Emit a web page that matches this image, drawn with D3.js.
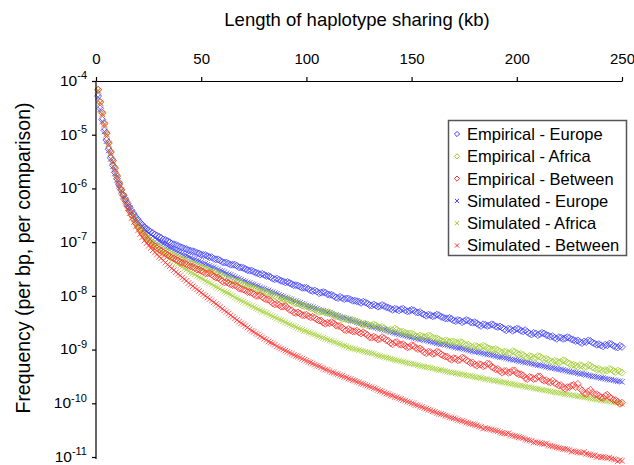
<!DOCTYPE html>
<html>
<head>
<meta charset="utf-8">
<script src="https://d3js.org/d3.v7.min.js"></script>
<style>
  body { margin: 0; background: #fff; }
  svg { font-family: "Liberation Sans", Arial, sans-serif; }
</style>
</head>
<body>
<div id="chart"></div>
<script>
// chart size
const width = 634;
const height = 465;

// x positions (kb) at which the frequencies were read, every 1 kb
const kb = d3.range(1, 251);

// log10 of frequency per bp per comparison (10 values per row)
const empEurope = [
  -4.28,-4.51,-4.72,-4.92,-5.10,-5.27,-5.43,-5.57,-5.70,-5.82,
  -5.93,-6.03,-6.12,-6.20,-6.28,-6.35,-6.42,-6.48,-6.54,-6.59,
  -6.64,-6.68,-6.72,-6.75,-6.78,-6.81,-6.83,-6.86,-6.88,-6.90,
  -6.92,-6.95,-6.96,-6.98,-7.00,-7.03,-7.04,-7.05,-7.07,-7.09,
  -7.10,-7.12,-7.13,-7.15,-7.16,-7.17,-7.18,-7.20,-7.21,-7.23,
  -7.24,-7.24,-7.26,-7.28,-7.28,-7.31,-7.32,-7.32,-7.34,-7.37,
  -7.38,-7.38,-7.40,-7.42,-7.42,-7.42,-7.44,-7.47,-7.47,-7.48,
  -7.50,-7.52,-7.53,-7.53,-7.55,-7.57,-7.58,-7.60,-7.59,-7.61,
  -7.63,-7.63,-7.65,-7.68,-7.69,-7.68,-7.70,-7.72,-7.73,-7.75,
  -7.74,-7.76,-7.78,-7.80,-7.80,-7.81,-7.83,-7.85,-7.85,-7.85,
  -7.87,-7.90,-7.91,-7.90,-7.92,-7.95,-7.94,-7.93,-7.94,-7.97,
  -7.98,-7.98,-8.00,-8.03,-8.04,-8.02,-8.04,-8.06,-8.05,-8.05,
  -8.07,-8.09,-8.09,-8.10,-8.11,-8.13,-8.11,-8.12,-8.14,-8.17,
  -8.18,-8.16,-8.18,-8.20,-8.19,-8.17,-8.19,-8.21,-8.22,-8.24,
  -8.26,-8.24,-8.25,-8.27,-8.25,-8.24,-8.27,-8.29,-8.28,-8.26,
  -8.27,-8.30,-8.31,-8.30,-8.33,-8.35,-8.37,-8.35,-8.36,-8.38,
  -8.37,-8.35,-8.36,-8.39,-8.40,-8.42,-8.42,-8.41,-8.43,-8.46,
  -8.47,-8.45,-8.46,-8.49,-8.47,-8.45,-8.46,-8.49,-8.50,-8.49,
  -8.51,-8.54,-8.56,-8.53,-8.54,-8.56,-8.55,-8.53,-8.54,-8.57,
  -8.58,-8.57,-8.59,-8.62,-8.64,-8.61,-8.62,-8.65,-8.63,-8.61,
  -8.62,-8.65,-8.66,-8.64,-8.67,-8.70,-8.72,-8.69,-8.70,-8.73,
  -8.71,-8.69,-8.70,-8.73,-8.74,-8.76,-8.75,-8.78,-8.80,-8.77,
  -8.78,-8.80,-8.79,-8.77,-8.78,-8.81,-8.82,-8.84,-8.83,-8.86,
  -8.88,-8.85,-8.86,-8.83,-8.84,-8.87,-8.89,-8.91,-8.90,-8.92,
  -8.94,-8.91,-8.92,-8.89,-8.90,-8.93,-8.95,-8.96,-8.93,-8.95
];
const empAfrica = [
  -4.17,-4.40,-4.60,-4.80,-4.98,-5.16,-5.33,-5.49,-5.63,-5.77,
  -5.90,-6.02,-6.13,-6.23,-6.33,-6.42,-6.50,-6.57,-6.64,-6.71,
  -6.77,-6.82,-6.87,-6.91,-6.95,-6.98,-7.01,-7.04,-7.06,-7.09,
  -7.11,-7.14,-7.16,-7.18,-7.20,-7.23,-7.24,-7.26,-7.28,-7.31,
  -7.32,-7.33,-7.35,-7.38,-7.39,-7.40,-7.42,-7.44,-7.45,-7.47,
  -7.48,-7.50,-7.51,-7.54,-7.55,-7.55,-7.57,-7.60,-7.61,-7.62,
  -7.64,-7.67,-7.69,-7.69,-7.71,-7.73,-7.74,-7.74,-7.76,-7.79,
  -7.80,-7.82,-7.83,-7.84,-7.86,-7.88,-7.89,-7.91,-7.92,-7.92,
  -7.94,-7.96,-7.97,-7.98,-8.00,-8.03,-8.05,-8.04,-8.06,-8.08,
  -8.08,-8.08,-8.10,-8.13,-8.14,-8.14,-8.16,-8.18,-8.19,-8.19,
  -8.21,-8.23,-8.24,-8.25,-8.28,-8.30,-8.29,-8.29,-8.31,-8.32,
  -8.31,-8.33,-8.36,-8.38,-8.38,-8.40,-8.43,-8.42,-8.43,-8.45,
  -8.45,-8.45,-8.47,-8.49,-8.49,-8.52,-8.54,-8.52,-8.53,-8.56,
  -8.55,-8.53,-8.55,-8.58,-8.59,-8.58,-8.60,-8.63,-8.65,-8.63,
  -8.64,-8.61,-8.63,-8.66,-8.67,-8.67,-8.69,-8.71,-8.70,-8.70,
  -8.72,-8.75,-8.76,-8.74,-8.75,-8.77,-8.76,-8.74,-8.75,-8.78,
  -8.79,-8.79,-8.81,-8.84,-8.85,-8.83,-8.84,-8.86,-8.85,-8.85,
  -8.87,-8.88,-8.86,-8.87,-8.90,-8.92,-8.91,-8.94,-8.96,-8.93,
  -8.94,-8.96,-8.95,-8.93,-8.94,-8.97,-8.98,-9.00,-9.00,-8.99,
  -9.01,-9.04,-9.06,-9.04,-9.04,-9.07,-9.06,-9.03,-9.04,-9.07,
  -9.09,-9.08,-9.10,-9.13,-9.15,-9.12,-9.13,-9.16,-9.15,-9.12,
  -9.13,-9.16,-9.18,-9.17,-9.19,-9.22,-9.23,-9.21,-9.22,-9.24,
  -9.23,-9.20,-9.21,-9.24,-9.26,-9.29,-9.28,-9.30,-9.32,-9.29,
  -9.30,-9.33,-9.32,-9.29,-9.30,-9.33,-9.35,-9.37,-9.36,-9.38,
  -9.40,-9.38,-9.39,-9.36,-9.37,-9.40,-9.42,-9.39,-9.41,-9.43
];
const empBetween = [
  -4.16,-4.39,-4.59,-4.79,-4.97,-5.15,-5.32,-5.48,-5.62,-5.77,
  -5.90,-6.02,-6.13,-6.23,-6.33,-6.42,-6.50,-6.58,-6.65,-6.72,
  -6.78,-6.84,-6.89,-6.94,-6.98,-7.02,-7.05,-7.08,-7.11,-7.14,
  -7.16,-7.19,-7.21,-7.24,-7.26,-7.29,-7.30,-7.32,-7.34,-7.37,
  -7.38,-7.39,-7.41,-7.44,-7.45,-7.46,-7.48,-7.51,-7.51,-7.53,
  -7.55,-7.58,-7.58,-7.58,-7.60,-7.64,-7.66,-7.66,-7.69,-7.73,
  -7.75,-7.74,-7.76,-7.79,-7.80,-7.80,-7.82,-7.86,-7.87,-7.88,
  -7.90,-7.93,-7.93,-7.94,-7.97,-8.00,-8.00,-7.99,-8.02,-8.05,
  -8.07,-8.07,-8.10,-8.14,-8.16,-8.15,-8.17,-8.20,-8.20,-8.19,
  -8.22,-8.26,-8.27,-8.31,-8.32,-8.31,-8.33,-8.36,-8.36,-8.35,
  -8.38,-8.40,-8.39,-8.41,-8.44,-8.46,-8.46,-8.50,-8.52,-8.50,
  -8.51,-8.49,-8.51,-8.55,-8.56,-8.56,-8.59,-8.63,-8.64,-8.62,
  -8.64,-8.66,-8.66,-8.65,-8.68,-8.70,-8.68,-8.70,-8.73,-8.77,
  -8.78,-8.76,-8.78,-8.81,-8.80,-8.77,-8.79,-8.83,-8.84,-8.88,
  -8.90,-8.87,-8.86,-8.90,-8.91,-8.90,-8.93,-8.96,-8.95,-8.92,
  -8.93,-8.97,-8.99,-8.98,-9.01,-9.05,-9.07,-9.04,-9.05,-9.08,
  -9.07,-9.04,-9.05,-9.09,-9.11,-9.13,-9.13,-9.17,-9.19,-9.16,
  -9.17,-9.20,-9.19,-9.15,-9.16,-9.20,-9.22,-9.25,-9.24,-9.28,
  -9.30,-9.27,-9.28,-9.31,-9.30,-9.26,-9.27,-9.32,-9.34,-9.37,
  -9.36,-9.40,-9.43,-9.40,-9.40,-9.43,-9.42,-9.39,-9.39,-9.44,
  -9.46,-9.46,-9.48,-9.53,-9.55,-9.51,-9.52,-9.55,-9.54,-9.50,
  -9.50,-9.56,-9.58,-9.57,-9.60,-9.61,-9.58,-9.62,-9.64,-9.67,
  -9.66,-9.70,-9.73,-9.70,-9.70,-9.67,-9.66,-9.70,-9.64,-9.72,
  -9.76,-9.81,-9.83,-9.78,-9.75,-9.80,-9.84,-9.83,-9.86,-9.89,
  -9.90,-9.86,-9.84,-9.88,-9.91,-9.94,-9.94,-9.97,-10.01,-9.99
];
const simEurope = [
  -4.30,-4.53,-4.75,-4.94,-5.12,-5.29,-5.45,-5.59,-5.72,-5.84,
  -5.95,-6.05,-6.14,-6.22,-6.30,-6.37,-6.44,-6.50,-6.56,-6.61,
  -6.66,-6.71,-6.75,-6.79,-6.83,-6.86,-6.89,-6.92,-6.95,-6.98,
  -7.00,-7.03,-7.05,-7.08,-7.10,-7.12,-7.14,-7.16,-7.18,-7.20,
  -7.22,-7.24,-7.25,-7.27,-7.29,-7.31,-7.32,-7.34,-7.35,-7.37,
  -7.39,-7.40,-7.42,-7.44,-7.46,-7.47,-7.49,-7.51,-7.53,-7.54,
  -7.56,-7.58,-7.60,-7.61,-7.63,-7.65,-7.67,-7.68,-7.70,-7.72,
  -7.73,-7.75,-7.76,-7.78,-7.79,-7.81,-7.82,-7.84,-7.86,-7.87,
  -7.89,-7.90,-7.92,-7.93,-7.95,-7.96,-7.98,-8.00,-8.01,-8.03,
  -8.04,-8.06,-8.07,-8.09,-8.10,-8.12,-8.13,-8.15,-8.16,-8.18,
  -8.19,-8.20,-8.21,-8.23,-8.24,-8.26,-8.27,-8.28,-8.29,-8.31,
  -8.32,-8.34,-8.35,-8.36,-8.37,-8.39,-8.40,-8.41,-8.42,-8.44,
  -8.45,-8.46,-8.47,-8.49,-8.50,-8.51,-8.52,-8.53,-8.54,-8.56,
  -8.57,-8.58,-8.59,-8.60,-8.61,-8.62,-8.63,-8.64,-8.65,-8.67,
  -8.68,-8.69,-8.70,-8.71,-8.72,-8.73,-8.74,-8.75,-8.76,-8.77,
  -8.78,-8.79,-8.80,-8.81,-8.81,-8.82,-8.83,-8.84,-8.85,-8.86,
  -8.87,-8.88,-8.89,-8.90,-8.90,-8.91,-8.92,-8.93,-8.94,-8.95,
  -8.96,-8.97,-8.97,-8.98,-8.99,-9.00,-9.01,-9.02,-9.03,-9.04,
  -9.04,-9.05,-9.06,-9.07,-9.08,-9.09,-9.09,-9.10,-9.11,-9.12,
  -9.13,-9.14,-9.14,-9.15,-9.16,-9.17,-9.18,-9.19,-9.19,-9.20,
  -9.21,-9.22,-9.23,-9.24,-9.24,-9.25,-9.26,-9.27,-9.28,-9.29,
  -9.29,-9.30,-9.31,-9.32,-9.33,-9.34,-9.34,-9.35,-9.36,-9.37,
  -9.37,-9.38,-9.39,-9.40,-9.41,-9.42,-9.42,-9.43,-9.44,-9.45,
  -9.45,-9.46,-9.47,-9.48,-9.49,-9.50,-9.50,-9.51,-9.52,-9.53,
  -9.53,-9.54,-9.55,-9.56,-9.56,-9.57,-9.58,-9.59,-9.59,-9.60
];
const simAfrica = [
  -4.18,-4.40,-4.60,-4.80,-4.98,-5.16,-5.33,-5.49,-5.63,-5.77,
  -5.90,-6.02,-6.13,-6.23,-6.33,-6.42,-6.50,-6.57,-6.64,-6.70,
  -6.76,-6.82,-6.87,-6.92,-6.96,-7.00,-7.04,-7.08,-7.11,-7.15,
  -7.18,-7.21,-7.24,-7.27,-7.30,-7.33,-7.36,-7.39,-7.41,-7.44,
  -7.46,-7.49,-7.51,-7.54,-7.56,-7.58,-7.60,-7.63,-7.65,-7.67,
  -7.69,-7.72,-7.74,-7.76,-7.78,-7.81,-7.83,-7.85,-7.87,-7.90,
  -7.92,-7.94,-7.96,-7.98,-8.00,-8.03,-8.05,-8.07,-8.09,-8.11,
  -8.13,-8.15,-8.17,-8.19,-8.21,-8.23,-8.25,-8.27,-8.29,-8.30,
  -8.32,-8.34,-8.36,-8.38,-8.40,-8.42,-8.44,-8.45,-8.47,-8.49,
  -8.51,-8.53,-8.55,-8.56,-8.58,-8.60,-8.62,-8.63,-8.65,-8.66,
  -8.68,-8.69,-8.71,-8.72,-8.74,-8.75,-8.77,-8.78,-8.80,-8.81,
  -8.83,-8.84,-8.86,-8.87,-8.89,-8.90,-8.92,-8.93,-8.94,-8.96,
  -8.97,-8.98,-8.99,-9.00,-9.01,-9.02,-9.03,-9.04,-9.05,-9.06,
  -9.07,-9.08,-9.10,-9.11,-9.12,-9.13,-9.14,-9.15,-9.16,-9.17,
  -9.18,-9.19,-9.20,-9.21,-9.22,-9.23,-9.24,-9.25,-9.26,-9.26,
  -9.27,-9.28,-9.29,-9.30,-9.31,-9.32,-9.33,-9.33,-9.34,-9.35,
  -9.36,-9.37,-9.38,-9.38,-9.39,-9.40,-9.41,-9.42,-9.43,-9.43,
  -9.44,-9.45,-9.46,-9.46,-9.47,-9.48,-9.49,-9.49,-9.50,-9.51,
  -9.52,-9.52,-9.53,-9.54,-9.55,-9.55,-9.56,-9.57,-9.58,-9.58,
  -9.59,-9.60,-9.61,-9.61,-9.62,-9.63,-9.64,-9.64,-9.65,-9.66,
  -9.67,-9.67,-9.68,-9.69,-9.70,-9.70,-9.71,-9.72,-9.73,-9.73,
  -9.74,-9.75,-9.76,-9.76,-9.77,-9.78,-9.79,-9.79,-9.80,-9.80,
  -9.81,-9.82,-9.83,-9.83,-9.84,-9.85,-9.85,-9.86,-9.87,-9.87,
  -9.88,-9.89,-9.89,-9.90,-9.91,-9.91,-9.92,-9.93,-9.93,-9.94,
  -9.95,-9.95,-9.96,-9.96,-9.97,-9.98,-9.99,-9.99,-10.00,-10.01
];
const simBetween = [
  -4.18,-4.41,-4.62,-4.82,-5.00,-5.18,-5.35,-5.51,-5.65,-5.79,
  -5.92,-6.04,-6.16,-6.27,-6.37,-6.46,-6.55,-6.63,-6.71,-6.78,
  -6.85,-6.91,-6.97,-7.02,-7.07,-7.11,-7.15,-7.19,-7.23,-7.27,
  -7.30,-7.34,-7.38,-7.42,-7.45,-7.49,-7.52,-7.56,-7.59,-7.62,
  -7.66,-7.69,-7.72,-7.76,-7.79,-7.82,-7.85,-7.88,-7.91,-7.94,
  -7.97,-8.00,-8.03,-8.06,-8.09,-8.12,-8.15,-8.18,-8.21,-8.24,
  -8.27,-8.30,-8.33,-8.36,-8.39,-8.42,-8.45,-8.48,-8.51,-8.53,
  -8.56,-8.59,-8.62,-8.65,-8.67,-8.70,-8.72,-8.75,-8.77,-8.80,
  -8.82,-8.85,-8.87,-8.89,-8.91,-8.94,-8.96,-8.98,-9.00,-9.02,
  -9.04,-9.06,-9.08,-9.10,-9.12,-9.13,-9.15,-9.17,-9.19,-9.21,
  -9.23,-9.24,-9.26,-9.28,-9.30,-9.31,-9.33,-9.35,-9.37,-9.38,
  -9.40,-9.42,-9.43,-9.45,-9.46,-9.48,-9.49,-9.51,-9.52,-9.54,
  -9.55,-9.57,-9.58,-9.60,-9.61,-9.63,-9.64,-9.66,-9.67,-9.69,
  -9.70,-9.72,-9.73,-9.75,-9.77,-9.78,-9.80,-9.82,-9.83,-9.85,
  -9.86,-9.88,-9.89,-9.91,-9.92,-9.94,-9.95,-9.97,-9.98,-10.00,
  -10.01,-10.03,-10.04,-10.06,-10.07,-10.09,-10.10,-10.12,-10.13,-10.15,
  -10.16,-10.18,-10.19,-10.20,-10.21,-10.23,-10.24,-10.26,-10.27,-10.28,
  -10.29,-10.31,-10.32,-10.33,-10.34,-10.36,-10.37,-10.38,-10.39,-10.40,
  -10.41,-10.43,-10.44,-10.47,-10.46,-10.47,-10.48,-10.49,-10.50,-10.51,
  -10.52,-10.54,-10.55,-10.56,-10.57,-10.56,-10.59,-10.60,-10.61,-10.62,
  -10.63,-10.64,-10.65,-10.67,-10.68,-10.69,-10.70,-10.73,-10.72,-10.73,
  -10.74,-10.75,-10.76,-10.75,-10.78,-10.79,-10.80,-10.81,-10.82,-10.83,
  -10.84,-10.85,-10.85,-10.86,-10.87,-10.90,-10.89,-10.90,-10.91,-10.92,
  -10.92,-10.91,-10.94,-10.95,-10.96,-10.97,-10.97,-11.00,-10.99,-11.00,
  -11.00,-11.01,-11.02,-11.01,-11.03,-11.04,-11.05,-11.08,-11.06,-11.07
];

// tick labels
const xTicks = [0, 50, 100, 150, 200, 250];
const yExponents = [-4, -5, -6, -7, -8, -9, -10, -11];

// series in legend order
const series = [
  { name: 'Empirical - Europe', values: empEurope, shape: 'diamond', color: '#3b3bff' },
  { name: 'Empirical - Africa', values: empAfrica, shape: 'diamond', color: '#9ccc2a' },
  { name: 'Empirical - Between', values: empBetween, shape: 'diamond', color: '#ff2e2e' },
  { name: 'Simulated - Europe', values: simEurope, shape: 'cross', color: '#3b3bff' },
  { name: 'Simulated - Africa', values: simAfrica, shape: 'cross', color: '#9ccc2a' },
  { name: 'Simulated - Between', values: simBetween, shape: 'cross', color: '#ff2e2e' }
];

const svg = d3.select('#chart')
  .append('svg')
  .attr('width', width)
  .attr('height', height);

// scales
const x = d3.scaleLinear().domain([0, 250]).range([96, 622]);
const y = d3.scaleLog().domain([1e-11, 1e-4]).range([457, 81]);

// marker shapes
function markerPath(shape, r) {
  if (shape === 'diamond') return `M0,${-r}L${r},0L0,${r}L${-r},0Z`;
  const c = r * 0.8;
  return `M${-c},${-c}L${c},${c}M${-c},${c}L${c},${-c}`;
}

// simulated drawn first, empirical diamonds on top
const drawOrder = [3, 4, 5, 0, 1, 2];
drawOrder.forEach(i => {
  const s = series[i];
  svg.append('g')
    .selectAll('path')
    .data(s.values.map((v, j) => ({ kb: kb[j], f: Math.pow(10, v) })))
    .join('path')
    .attr('transform', d => `translate(${x(d.kb)},${y(d.f)})`)
    .attr('d', markerPath(s.shape, 3.5))
    .attr('fill', 'none')
    .attr('stroke', s.color)
    .attr('stroke-width', 0.9)
    .attr('stroke-opacity', 0.85);
});

// top axis
const xAxis = svg.append('g')
  .attr('transform', `translate(0,${y(1e-4)})`)
  .call(d3.axisTop(x).tickValues(xTicks).tickSize(4).tickSizeOuter(0).tickPadding(13));
xAxis.selectAll('text').attr('font-size', 15).attr('fill', '#000');

// left axis with superscript labels
const yAxis = svg.append('g')
  .attr('transform', `translate(${x(0)},0)`)
  .call(d3.axisLeft(y).tickValues(yExponents.map(e => Math.pow(10, e))).tickSize(4).tickSizeOuter(0).tickPadding(5).tickFormat(''));
yAxis.select('.domain').attr('d', `M0,${y(1e-4)}V${y(1e-11) + 2}`);
yAxis.selectAll('.tick text')
  .attr('font-size', 15.5)
  .attr('fill', '#000')
  .attr('dy', '0.28em')
  .each(function (d) {
    const t = d3.select(this);
    t.append('tspan').text('10');
    t.append('tspan')
      .attr('font-size', 11)
      .attr('dy', '-0.6em')
      .text(Math.round(Math.log10(d)));
  });

svg.selectAll('.domain, .tick line').attr('stroke', '#000').attr('stroke-width', 1.2);

// axis titles
svg.append('text')
  .attr('x', 357)
  .attr('y', 26)
  .attr('text-anchor', 'middle')
  .attr('font-size', 18.5)
  .text('Length of haplotype sharing (kb)');

svg.append('text')
  .attr('transform', 'translate(30,258) rotate(-90)')
  .attr('text-anchor', 'middle')
  .attr('font-size', 19.5)
  .text('Frequency (per bp, per comparison)');

// legend
const legend = svg.append('g');
legend.append('rect')
  .attr('x', 448.5)
  .attr('y', 120.5)
  .attr('width', 178)
  .attr('height', 135)
  .attr('fill', '#fff')
  .attr('stroke', '#555')
  .attr('stroke-width', 1.5);

const rows = legend.selectAll('g.row')
  .data(series)
  .join('g')
  .attr('class', 'row')
  .attr('transform', (d, i) => `translate(457,${134 + i * 22.3})`);

rows.append('path')
  .attr('d', d => markerPath(d.shape, 2.6))
  .attr('fill', 'none')
  .attr('stroke', d => d.color)
  .attr('stroke-width', 1);

rows.append('text')
  .attr('x', 10)
  .attr('dy', '0.36em')
  .attr('font-size', 16.5)
  .text(d => d.name);
</script>
</body>
</html>
